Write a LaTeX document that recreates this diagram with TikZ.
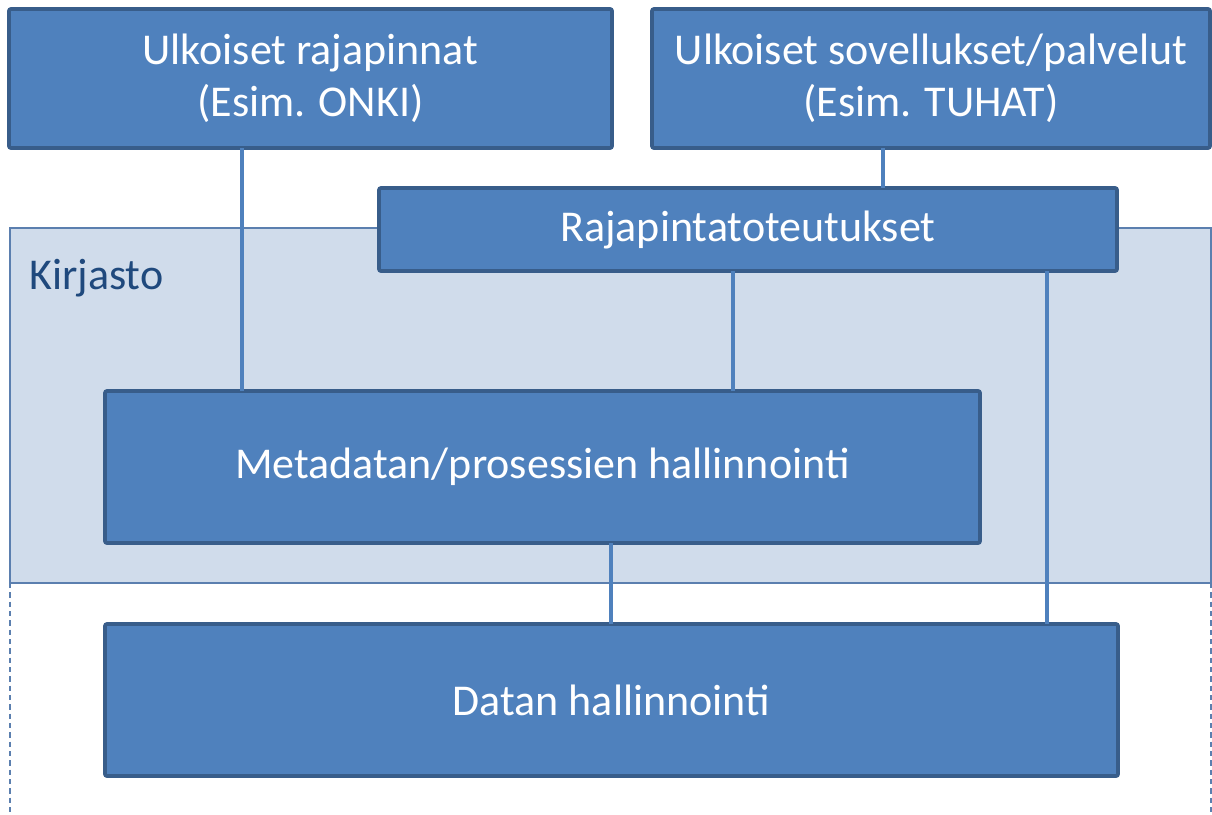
\documentclass[tikz,border=0pt]{standalone}
\usepackage{fontspec}
\setmainfont{Carlito}
\definecolor{boxfill}{HTML}{4F81BD}
\definecolor{boxedge}{HTML}{385D8A}
\definecolor{panelfill}{HTML}{D0DCEB}
\definecolor{paneledge}{HTML}{5B7FAF}
\definecolor{labelblue}{HTML}{1F497D}
\tikzset{
  px/.style={x=0.75pt,y=-0.75pt},
  bluebox/.style={draw=boxedge, fill=boxfill, line width=2.8pt, rounded corners=1.5pt,
    text=white, align=center, inner sep=0pt, outer sep=0pt,
    font=\fontsize{33}{39}\selectfont},
  link/.style={draw=boxfill, line width=2.4pt},
  panel/.style={draw=paneledge, fill=panelfill, line width=1.2pt},
  guide/.style={draw=paneledge, line width=1.4pt, dash pattern=on 4pt off 3pt}
}
\begin{document}
\begin{tikzpicture}[px]
\useasboundingbox (0,0) rectangle (1212,814);
% panel
\draw[panel] (10,228) rectangle (1211,583);
\node[anchor=west, text=labelblue, font=\fontsize{33}{39}\selectfont, inner sep=0pt] (kirjasto) at (29,278) {Kirjasto};
\coordinate (gl1) at (10,583);
\coordinate (gl2) at (10,814);
\coordinate (gr1) at (1211,583);
\coordinate (gr2) at (1211,814);
\draw[guide] (gl1) -- (gl2);
\draw[guide] (gr1) -- (gr2);
% boxes
\node[bluebox, minimum width=452.25pt, minimum height=104.25pt] (ext) at (310.5,78.5) {Ulkoiset rajapinnat\\(Esim. ONKI)};
\node[bluebox, minimum width=418.5pt, minimum height=104.25pt] (apps) at (931,78.5) {Ulkoiset sovellukset/palvelut\\(Esim. TUHAT)};
\node[bluebox, minimum width=553.5pt, minimum height=62.25pt] (raja) at (748,229.5) {Rajapintatoteutukset};
\node[bluebox, minimum width=656.25pt, minimum height=114pt] (meta) at (542.5,467) {Metadatan/prosessien hallinnointi};
\node[bluebox, minimum width=759.75pt, minimum height=114pt] (data) at (611.5,700) {Datan hallinnointi};
% connectors
\draw[link] (ext.south -| 242,0) -- (meta.north -| 242,0);
\draw[link] (apps.south -| 883,0) -- (raja.north -| 883,0);
\draw[link] (raja.south -| 733,0) -- (meta.north -| 733,0);
\draw[link] (meta.south -| 611,0) -- (data.north -| 611,0);
\draw[link] (raja.south -| 1047,0) -- (data.north -| 1047,0);
\end{tikzpicture}
\end{document}
